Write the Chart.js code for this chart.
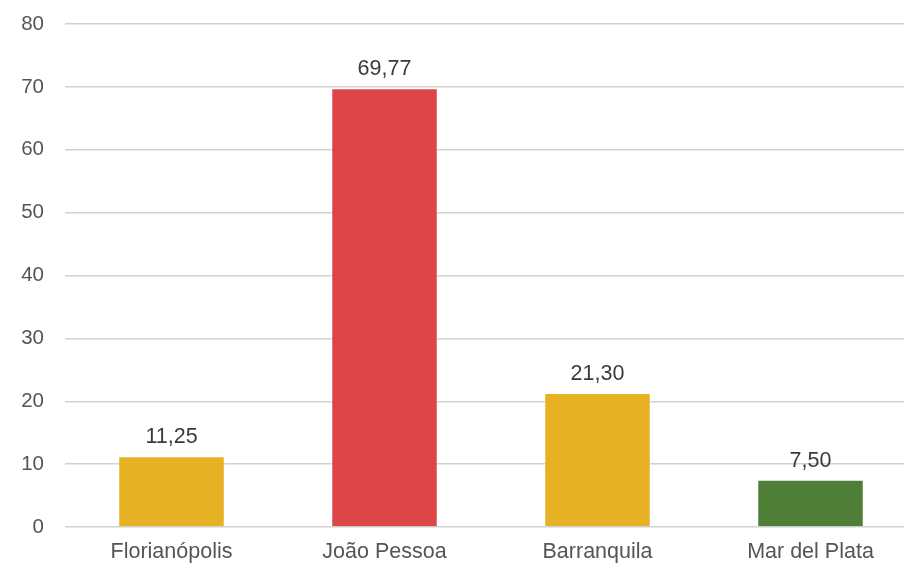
<!DOCTYPE html>
<html>
<head>
<meta charset="utf-8">
<script src="https://cdn.jsdelivr.net/npm/chart.js@4/dist/chart.umd.min.js"></script>
<style>
  html, body { margin: 0; padding: 0; background: #ffffff; overflow: hidden; width: 904px; height: 564px; }
  canvas { display: block; }
</style>
</head>
<body>
<canvas id="chart" width="920" height="564"></canvas>
<script>
const categories = ['Florianópolis', 'João Pessoa', 'Barranquila', 'Mar del Plata'];
const values = [11.25, 69.77, 21.30, 7.50];
const barColors = ['#E6B123', '#DE4548', '#E6B123', '#4F7F37'];
const yTickValues = [0, 10, 20, 30, 40, 50, 60, 70, 80];

const FONT = '"Liberation Sans", Arial, sans-serif';

// Writes each bar's value above it, with a decimal comma
const valueLabels = {
  id: 'valueLabels',
  afterDatasetsDraw(chart) {
    const ctx = chart.ctx;
    const meta = chart.getDatasetMeta(0);
    ctx.save();
    ctx.font = '21.5px ' + FONT;
    ctx.fillStyle = '#3a3a3a';
    ctx.textAlign = 'center';
    ctx.textBaseline = 'bottom';
    meta.data.forEach((bar, i) => {
      const txt = values[i].toFixed(2).replace('.', ',');
      ctx.fillText(txt, bar.x, bar.y - 8);
    });
    ctx.restore();
  }
};

new Chart(document.getElementById('chart'), {
  type: 'bar',
  data: {
    labels: categories,
    datasets: [{
      data: values,
      backgroundColor: barColors,
      borderColor: 'rgba(255,255,255,0.45)',
      borderWidth: 1,
      categoryPercentage: 1,
      barPercentage: 0.5
    }]
  },
  options: {
    responsive: false,
    animation: false,
    layout: { padding: { top: 24, right: 3, left: 0, bottom: 0 } },
    plugins: {
      legend: { display: false },
      tooltip: { enabled: false }
    },
    scales: {
      x: {
        grid: { display: false, drawTicks: false },
        border: { display: false },
        ticks: {
          color: '#555555',
          font: { family: FONT, size: 21.5 },
          padding: 12,
          maxRotation: 0
        },
        afterFit(scale) { scale.height = 37; }
      },
      y: {
        min: 0,
        max: 80,
        afterBuildTicks(scale) { scale.ticks = yTickValues.map(v => ({ value: v })); },
        grid: { color: '#d2d2d2', lineWidth: 1.5, drawTicks: false },
        border: { display: false },
        ticks: {
          color: '#555555',
          font: { family: FONT, size: 20.5 },
          padding: 21
        },
        afterFit(scale) {
          scale.width = 65;
          scale.paddingTop = 0;
          scale.paddingBottom = 0;
        }
      }
    }
  },
  plugins: [valueLabels]
});
</script>
</body>
</html>
